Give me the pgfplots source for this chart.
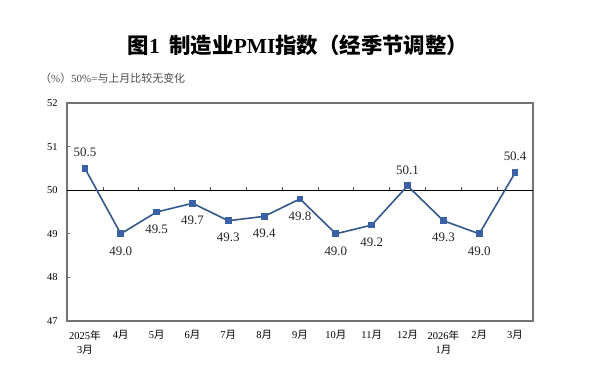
\documentclass[border=0pt]{standalone}
\usepackage{pgfplots}
\pgfplotsset{compat=1.18}
\usepackage{fontspec}
\setmainfont{Liberation Serif}
\newfontfamily\cjk{Noto Sans CJK SC}
\newcommand\cj[1]{{\cjk #1}}
\definecolor{lineblue}{RGB}{50,88,140}
\definecolor{markblue}{RGB}{58,96,165}
\pgfplotstableread{
x y
0 50.5
1 49.0
2 49.5
3 49.7
4 49.3
5 49.4
6 49.8
7 49.0
8 49.2
9 50.1
10 49.3
11 49.0
12 50.4
}\pmidata
\pgfplotstableread{
x y
0 50.5
9 50.1
12 50.4
}\abovedata
\pgfplotstableread{
x y
1 49.0
2 49.5
3 49.7
4 49.3
5 49.4
6 49.8
7 49.0
8 49.2
10 49.3
11 49.0
}\belowdata
\begin{document}
\begin{tikzpicture}[x=1bp,y=1bp]
\useasboundingbox (0,0) rectangle (600,381);
\node[font=\fontsize{21.5}{25}\selectfont\bfseries] at (298,336) {\cj{图}1\hspace{0.45em}\cj{制造业}PMI\cj{指数（经季节调整）}};
\node[anchor=west, text=black!70, font=\fontsize{11}{13}\selectfont, inner sep=0] at (40,303) {\cj{（}\%\cj{）}50\%=\cj{与上月比较无变化}};
\begin{axis}[
  at={(67bp,60bp)}, anchor=south west,
  scale only axis, width=466bp, height=218bp,
  xmin=-0.5, xmax=12.5, ymin=47, ymax=52,
  ytick={47,48,49,50,51,52},
  xtick={0,...,12},
  xticklabels={{2025\cj{年}\\3\cj{月}},{4\cj{月}},{5\cj{月}},{6\cj{月}},{7\cj{月}},{8\cj{月}},{9\cj{月}},{10\cj{月}},{11\cj{月}},{12\cj{月}},{2026\cj{年}\\1\cj{月}},{2\cj{月}},{3\cj{月}}},
  xticklabel style={align=center, font=\fontsize{10.5}{14}\selectfont, yshift=-6bp},
  yticklabel style={font=\fontsize{10.5}{12}\selectfont, xshift=-6bp},
  major x tick style={draw=none},
  ytick pos=left, tick align=inside,
  major tick length=3bp,
  tick style={black!60, line width=0.8pt},
  axis line style={black!55, line width=1.2pt},
  /pgf/number format/assume math mode=true,
  clip=false,
]
\draw[black, line width=0.8pt] (axis cs:-0.5,50) -- (axis cs:12.5,50);
\pgfplotsinvokeforeach{0.5,1.5,2.5,3.5,4.5,5.5,6.5,7.5,8.5,9.5,10.5,11.5}{
  \draw[black!70, line width=0.6pt] (axis cs:#1,50) -- ([yshift=3bp]axis cs:#1,50);
}
\addplot[lineblue, line width=1.6pt, mark=square*, mark size=2.6bp, mark options={fill=markblue, draw=markblue}] table[x=x,y=y] {\pmidata};
\addplot[draw=none, mark=none, nodes near coords={\pgfmathprintnumber[fixed,fixed zerofill,precision=1,assume math mode=true]{\pgfplotspointmeta}},
  every node near coord/.style={anchor=center, yshift=16bp, font=\fontsize{13}{15}\selectfont, text=black!85}] table[x=x,y=y] {\abovedata};
\addplot[draw=none, mark=none, nodes near coords={\pgfmathprintnumber[fixed,fixed zerofill,precision=1,assume math mode=true]{\pgfplotspointmeta}},
  every node near coord/.style={anchor=center, yshift=-17bp, font=\fontsize{13}{15}\selectfont, text=black!85}] table[x=x,y=y] {\belowdata};
\end{axis}
\end{tikzpicture}
\end{document}
